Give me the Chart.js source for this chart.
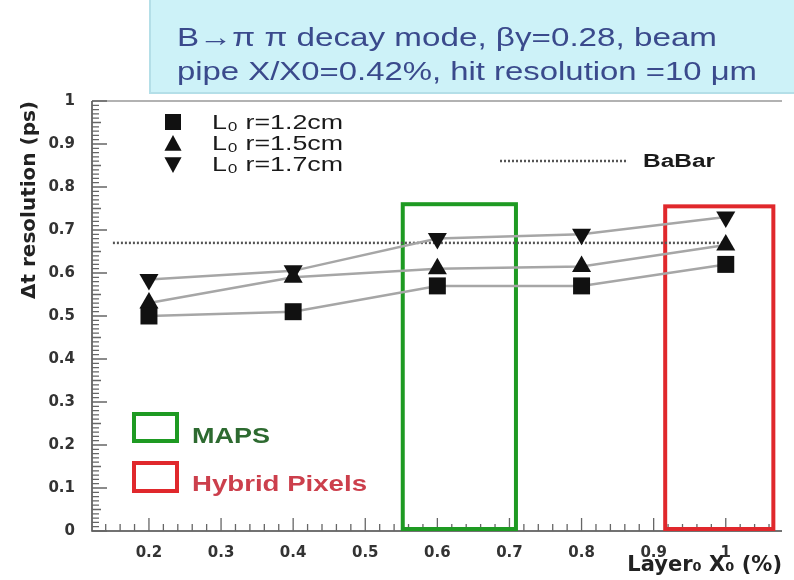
<!DOCTYPE html>
<html>
<head>
<meta charset="utf-8">
<script src="https://cdn.jsdelivr.net/npm/chart.js@4.4.0/dist/chart.umd.min.js"></script>
<style>
  html, body { margin: 0; padding: 0; background: #fff; }
  #wrap { width: 794px; height: 580px; }
</style>
</head>
<body>
<div id="wrap"><canvas id="resChart" width="794" height="580"></canvas></div>
<script>
// layer thickness X/X0 (%)
const layerX = [0.2, 0.4, 0.6, 0.8, 1.0];
// dt resolution (ps) per L0 radius
const resR12 = [0.50, 0.51, 0.57, 0.57, 0.62];
const resR15 = [0.53, 0.59, 0.61, 0.615, 0.665];
const resR17 = [0.585, 0.605, 0.68, 0.69, 0.73];
// BaBar reference level
const babarX = [0.15, 1.0];
const babarY = [0.67, 0.67];
// technology windows: [x from, x to, y top]
const mapsBox = [0.552, 0.709, 0.76];
const hybridBox = [0.916, 1.066, 0.755];
// axis tick labels
const xTicks = [0.2, 0.3, 0.4, 0.5, 0.6, 0.7, 0.8, 0.9, 1];
const yTicks = [0, 0.1, 0.2, 0.3, 0.4, 0.5, 0.6, 0.7, 0.8, 0.9, 1];

const FONT = '"DejaVu Sans", "Liberation Sans", sans-serif';
const ARIAL = '"Liberation Sans", Arial, sans-serif';

function pts(xs, ys) {
  return xs.map((x, i) => ({ x: x, y: ys[i] }));
}

// text fitted to a given width (the source image is stretched sideways)
function wideText(ctx, text, x, y, font, width) {
  ctx.font = font;
  const w = ctx.measureText(text).width;
  const sx = width ? width / w : 1;
  ctx.save();
  ctx.translate(x, y);
  ctx.scale(sx, 1);
  ctx.textAlign = 'left';
  ctx.textBaseline = 'alphabetic';
  ctx.fillText(text, 0, 0);
  ctx.restore();
}

function marker(ctx, kind, x, y, r) {
  ctx.beginPath();
  if (kind === 'rect') {
    ctx.rect(x - r, y - r, 2 * r, 2 * r);
  } else {
    const d = kind === 'up' ? 1 : -1;
    ctx.moveTo(x, y - d * r);
    ctx.lineTo(x + r * 0.95, y + d * r * 0.75);
    ctx.lineTo(x - r * 0.95, y + d * r * 0.75);
    ctx.closePath();
  }
  ctx.fill();
}

const decor = {
  id: 'decor',
  beforeDraw(chart) {
    const ctx = chart.ctx;
    ctx.save();
    ctx.fillStyle = '#fff';
    ctx.fillRect(0, 0, chart.width, chart.height);
    // header box
    ctx.fillStyle = '#cdf2f8';
    ctx.fillRect(149, 0, 645, 93);
    ctx.strokeStyle = '#b4dfe8';
    ctx.lineWidth = 2;
    ctx.strokeRect(150, -2, 650, 95);
    ctx.fillStyle = '#3a4a8c';
    wideText(ctx, 'B\u2192\u03c0 \u03c0 decay mode, \u03b2\u03b3=0.28, beam', 177, 46, '26px ' + ARIAL, 540);
    wideText(ctx, 'pipe X/X0=0.42%, hit resolution =10 \u03bcm', 177, 80, '26px ' + ARIAL, 580);
    ctx.restore();
  },
  beforeDatasetsDraw(chart) {
    const ctx = chart.ctx;
    const a = chart.chartArea;
    const xs = chart.scales.x, ys = chart.scales.y;
    ctx.save();
    // frame
    ctx.strokeStyle = '#999';
    ctx.lineWidth = 1.5;
    ctx.beginPath();
    ctx.moveTo(a.left, a.top);
    ctx.lineTo(a.right, a.top);
    ctx.stroke();
    ctx.strokeStyle = '#444';
    ctx.beginPath();
    ctx.moveTo(a.left, a.top);
    ctx.lineTo(a.left, a.bottom);
    ctx.lineTo(a.right, a.bottom);
    ctx.stroke();
    // inward ticks
    ctx.lineWidth = 1.3;
    ctx.strokeStyle = '#666';
    ctx.beginPath();
    for (let i = 0; i <= 100; i++) {
      const py = ys.getPixelForValue(i / 100);
      const len = i % 10 === 0 ? 15 : (i % 5 === 0 ? 9 : 7);
      ctx.moveTo(a.left, py);
      ctx.lineTo(a.left + len, py);
    }
    for (let i = Math.ceil(xs.min / 0.02); i * 0.02 <= xs.max; i++) {
      const px = xs.getPixelForValue(i * 0.02);
      const len = i % 5 === 0 ? 13 : 7;
      ctx.moveTo(px, a.bottom);
      ctx.lineTo(px, a.bottom - len);
    }
    ctx.stroke();
    // MAPS / hybrid windows
    ctx.lineWidth = 4;
    [[mapsBox, '#1e9a22'], [hybridBox, '#e0282c']].forEach(([b, c]) => {
      const x0 = xs.getPixelForValue(b[0]), x1 = xs.getPixelForValue(b[1]);
      const y0 = ys.getPixelForValue(0) - 2, y1 = ys.getPixelForValue(b[2]);
      ctx.strokeStyle = c;
      ctx.strokeRect(x0, y1, x1 - x0, y0 - y1);
    });
    ctx.restore();
  },
  afterDraw(chart) {
    const ctx = chart.ctx;
    ctx.save();
    // marker legend
    ctx.fillStyle = '#111';
    marker(ctx, 'rect', 173, 122, 8);
    marker(ctx, 'up', 173, 144, 9);
    marker(ctx, 'down', 173, 164, 9);
    ctx.fillStyle = '#1a1a1a';
    const lf = '21px ' + ARIAL;
    wideText(ctx, 'L\u2080 r=1.2cm', 212, 129, lf, 131);
    wideText(ctx, 'L\u2080 r=1.5cm', 212, 150, lf, 131);
    wideText(ctx, 'L\u2080 r=1.7cm', 212, 171, lf, 131);
    // BaBar legend
    ctx.strokeStyle = '#555';
    ctx.lineWidth = 2.5;
    ctx.setLineDash([2, 2]);
    ctx.beginPath();
    ctx.moveTo(500, 161);
    ctx.lineTo(626, 161);
    ctx.stroke();
    ctx.setLineDash([]);
    wideText(ctx, 'BaBar', 643, 167, 'bold 18px ' + ARIAL, 72);
    // window legend
    ctx.lineWidth = 4;
    ctx.strokeStyle = '#1e9a22';
    ctx.strokeRect(134, 414, 43, 27);
    ctx.strokeStyle = '#e0282c';
    ctx.strokeRect(134, 463, 43, 28);
    ctx.fillStyle = '#2d6a30';
    wideText(ctx, 'MAPS', 192, 443, 'bold 22px ' + ARIAL, 78);
    ctx.fillStyle = '#cc3f4c';
    wideText(ctx, 'Hybrid Pixels', 192, 491, 'bold 22px ' + ARIAL, 175);
    ctx.restore();
  }
};

const lineStyle = { borderColor: '#a6a6a6', borderWidth: 2.5, pointRadius: 0, showLine: true, order: 3 };
const markStyle = { showLine: false, backgroundColor: '#111', borderColor: '#111', borderWidth: 0, order: 1 };

const resCtx = document.getElementById('resChart').getContext('2d');
const resChart = new Chart(resCtx, {
  type: 'scatter',
  data: {
    datasets: [
      { label: 'BaBar', data: pts(babarX, babarY), showLine: true, borderColor: '#555', borderWidth: 2.5, borderDash: [2, 2], pointRadius: 0, order: 4 },
      Object.assign({ label: 'r=1.7cm line', data: pts(layerX, resR17) }, lineStyle),
      Object.assign({ label: 'r=1.5cm line', data: pts(layerX, resR15) }, lineStyle),
      Object.assign({ label: 'r=1.2cm line', data: pts(layerX, resR12) }, lineStyle),
      Object.assign({ label: 'L0 r=1.2cm', data: pts(layerX, resR12), pointStyle: 'rect', pointRadius: 12 }, markStyle),
      Object.assign({ label: 'L0 r=1.5cm', data: pts(layerX, resR15), pointStyle: 'triangle', pointRadius: 11 }, markStyle),
      Object.assign({ label: 'L0 r=1.7cm', data: pts(layerX, resR17), pointStyle: 'triangle', pointRotation: 180, pointRadius: 11 }, markStyle)
    ]
  },
  options: {
    responsive: false,
    animation: false,
    devicePixelRatio: 1,
    layout: { padding: { top: 101, right: 1, left: 0, bottom: 0 } },
    scales: {
      x: {
        type: 'linear',
        min: 0.121,
        max: 1.078,
        afterBuildTicks: s => { s.ticks = xTicks.map(v => ({ value: v })); },
        afterFit: s => { s.height = 49; },
        grid: { display: false },
        border: { display: false },
        ticks: {
          padding: 5,
          color: '#333',
          font: { family: FONT, size: 15, weight: 'bold' },
          callback: v => String(Math.round(v * 10) / 10)
        },
        title: {
          display: true,
          text: 'Layer\u2080 X\u2080 (%)',
          align: 'end',
          color: '#222',
          font: { family: FONT, size: 21, weight: 'bold' },
          padding: { top: 0, bottom: 2 }
        }
      },
      y: {
        type: 'linear',
        min: 0,
        max: 1,
        afterBuildTicks: s => { s.ticks = yTicks.map(v => ({ value: v })); },
        afterFit: s => { s.width = 92; },
        grid: { display: false },
        border: { display: false },
        ticks: {
          padding: 9,
          color: '#333',
          font: { family: FONT, size: 15, weight: 'bold' },
          callback: v => String(Math.round(v * 10) / 10)
        },
        title: {
          display: true,
          text: '\u0394t resolution (ps)',
          align: 'end',
          color: '#222',
          font: { family: FONT, size: 20, weight: 'bold' },
          padding: { top: 18, bottom: 0 }
        }
      }
    },
    plugins: {
      legend: { display: false },
      tooltip: { enabled: false }
    }
  },
  plugins: [decor]
});
</script>
</body>
</html>
